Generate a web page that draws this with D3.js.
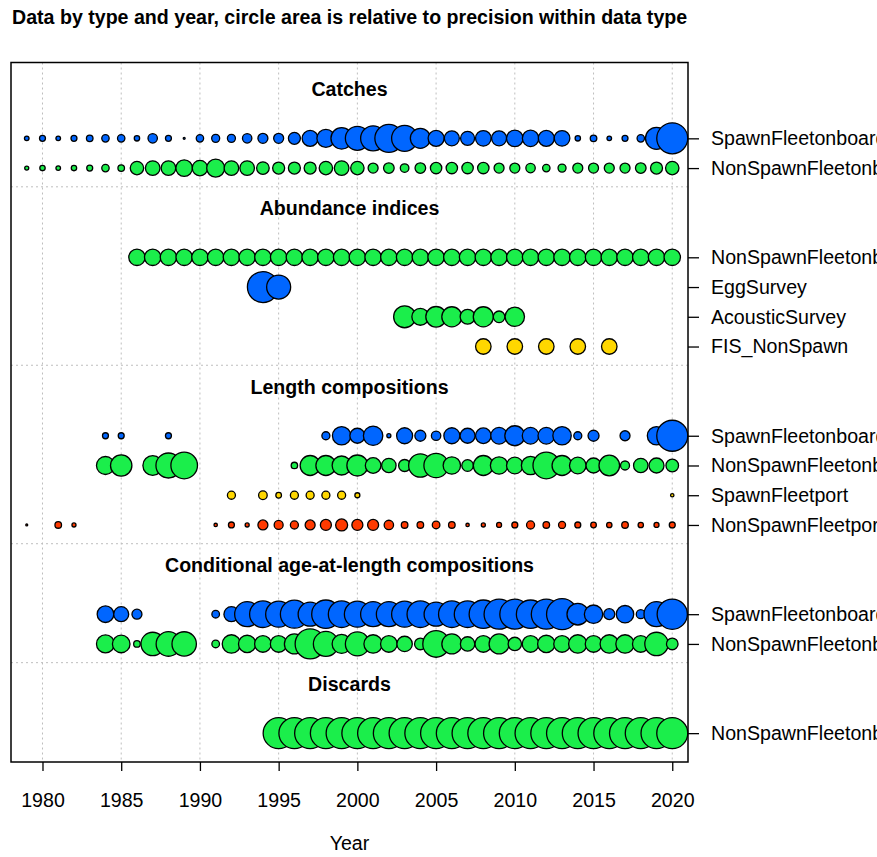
<!DOCTYPE html>
<html>
<head>
<meta charset="utf-8">
<script src="https://cdn.jsdelivr.net/npm/d3@7"></script>
<style>
  html, body { margin: 0; padding: 0; background: #fff; }
  svg { display: block; font-family: "Liberation Sans", Arial, sans-serif; }
</style>
</head>
<body>
<svg id="chart" width="877" height="857"></svg>
<script>
// ---- data ---------------------------------------------------------------
const titleText = "Data by type and year, circle area is relative to precision within data type";
const xTicks = [1980, 1985, 1990, 1995, 2000, 2005, 2010, 2015, 2020];
const dataTypes = ["Catches", "Abundance indices", "Length compositions",
  "Conditional age-at-length compositions", "Discards"];

const fleetColors = {
  SpawnFleetonboard: "#0066FF",
  NonSpawnFleetonboard: "#1BEE4B",
  SpawnFleetport: "#FFD700",
  NonSpawnFleetport: "#FF3A00",
  EggSurvey: "#0066FF",
  AcousticSurvey: "#1BEE4B",
  FIS_NonSpawn: "#FFD700"
};

// Catches
const catchYears = [1979,1980,1981,1982,1983,1984,1985,1986,1987,1988,1989,1990,1991,1992,
  1993,1994,1995,1996,1997,1998,1999,2000,2001,2002,2003,2004,2005,2006,2007,2008,2009,2010,
  2011,2012,2013,2014,2015,2016,2017,2018,2019,2020];
const catchSpawnOnboard = [2.2,3.7,2.2,3.7,4.5,5.7,5.7,3.0,9.2,3.7,0.4,5.7,6.7,6.7,9.2,10.4,
  10.4,15,26.6,33.7,47.6,59.9,65,81.6,70.3,41.6,26.6,23.4,20.4,25.3,23.4,28.7,28,26.6,25.3,
  3.0,4.5,2.2,3.7,5.7,50.4,100];
const catchNonSpawnOnboard = [1.7,3.0,2.2,3.0,3.7,5.7,4.5,18.7,22.2,22.2,28.7,24.7,33.7,22.2,
  22.2,16.5,15,15,15,18.7,22.2,18.7,10.4,11.7,7.7,11.7,13.5,13.5,13.5,13.5,10.4,10.4,9.2,5.7,
  6.7,10.4,10.4,10.4,10.4,11.7,15,18.7];

// Abundance indices
const cpueYears = [1986,1987,1988,1989,1990,1991,1992,1993,1994,1995,1996,1997,1998,1999,2000,
  2001,2002,2003,2004,2005,2006,2007,2008,2009,2010,2011,2012,2013,2014,2015,2016,2017,2018,
  2019,2020];
const cpueNonSpawnOnboard = [28,28,28,28,28,28,28,28,28,28,28,28,28,28,28,28,28,28,28,28,28,
  28,28,28,28,28,28,28,28,28,28,28,28,28,28];
const eggYears = [1994, 1995];
const eggSurvey = [100, 60];
const acousticYears = [2003,2004,2005,2006,2007,2008,2009,2010];
const acousticSurvey = [50,30,44,42,23,42,14,39];
const fisYears = [2008,2010,2012,2014,2016];
const fisNonSpawn = [25,25,25,25,25];

// Length compositions
const lenSpawnOnboardYears = [1984,1985,1988,1998,1999,2000,2001,2002,2003,2004,2005,2006,
  2007,2008,2009,2010,2011,2012,2013,2014,2015,2017,2019,2020];
const lenSpawnOnboard = [3.7,3.7,3.7,6.7,35.2,23.4,39.2,1.7,26.6,12.6,9.2,26.6,23.4,25.3,28.7,
  41.6,28.7,28.7,35.2,6.7,12.6,10.4,35.2,100];
const lenNonSpawnOnboardYears = [1984,1985,1987,1988,1989,1996,1997,1998,1999,2000,2001,2002,
  2003,2004,2005,2006,2007,2008,2009,2010,2011,2012,2013,2014,2015,2016,2017,2018,2019,2020];
const lenNonSpawnOnboard = [33.7,47.6,40,65,73.6,4.3,41.6,41.6,37.6,45.9,25.3,21.6,15,57,61.9,
  31.5,14,41.6,31.5,28.7,35.2,73.6,41.6,28.7,23.4,44.2,8.4,21.6,23.4,16.5];
const lenSpawnPortYears = [1992,1994,1995,1996,1997,1998,1999,2000,2020];
const lenSpawnPort = [6.7,7.7,3.3,6.7,6.7,6.7,6.7,2.6,1.2];
const lenNonSpawnPortYears = [1979,1981,1982,1991,1992,1993,1994,1995,1996,1997,1998,1999,
  2000,2001,2002,2003,2004,2005,2006,2007,2008,2009,2010,2011,2012,2013,2014,2015,2016,2017,
  2018,2019,2020];
const lenNonSpawnPort = [0.4,4.5,1.7,1.2,3.7,1.7,10.4,8.4,6.7,10.4,12.6,15,12.6,12.6,9.2,4.5,
  4.5,6,4.5,1.2,1.7,2.6,3.7,6.7,4.5,5.1,3.7,3.3,3.0,4.5,3.0,2.6,3.7];

// Conditional age-at-length compositions
const caalSpawnOnboardYears = [1984,1985,1986,1991,1992,1993,1994,1995,1996,1997,1998,1999,
  2000,2001,2002,2003,2004,2005,2006,2007,2008,2009,2010,2011,2012,2013,2014,2015,2016,2017,
  2018,2019,2020];
const caalSpawnOnboard = [28.7,23.4,10.4,6,23.4,65,73.6,70.3,81.6,59.9,83.9,73.6,70.3,65,65,
  70.3,73.6,59.9,73.6,73.6,83.9,93.6,93.6,83.9,93.6,100,48.5,35.2,12.6,31.5,8.4,65,95];
const caalNonSpawnOnboardYears = [1984,1985,1986,1987,1988,1989,1991,1992,1993,1994,1995,1996,
  1997,1998,1999,2000,2001,2002,2003,2004,2005,2006,2007,2008,2009,2010,2011,2012,2013,2014,
  2015,2016,2017,2018,2019,2020];
const caalNonSpawnOnboard = [33.7,32.2,4.5,57,63,61.9,6,35.2,31.5,28.7,28.7,41.6,93.6,65,37.6,
  59.9,35.2,28.7,24.7,14,73.6,41.6,21.6,28.7,41.6,18.7,28.7,31.5,28.7,35.2,28.7,35.2,35.2,28.7,
  57,14];

// Discards
const discardYears = [1995,1996,1997,1998,1999,2000,2001,2002,2003,2004,2005,2006,2007,2008,
  2009,2010,2011,2012,2013,2014,2015,2016,2017,2018,2019,2020];
const discardNonSpawnOnboard = [100,100,100,100,100,100,100,100,100,100,100,100,100,100,100,
  100,100,100,100,100,100,100,100,100,100,100];

// rows of the chart, grouped by data type
const rows = [
  { type: 0, fleet: "SpawnFleetonboard", years: catchYears, values: catchSpawnOnboard },
  { type: 0, fleet: "NonSpawnFleetonboard", years: catchYears, values: catchNonSpawnOnboard },
  { type: 1, fleet: "NonSpawnFleetonboard", years: cpueYears, values: cpueNonSpawnOnboard },
  { type: 1, fleet: "EggSurvey", years: eggYears, values: eggSurvey },
  { type: 1, fleet: "AcousticSurvey", years: acousticYears, values: acousticSurvey },
  { type: 1, fleet: "FIS_NonSpawn", years: fisYears, values: fisNonSpawn },
  { type: 2, fleet: "SpawnFleetonboard", years: lenSpawnOnboardYears, values: lenSpawnOnboard },
  { type: 2, fleet: "NonSpawnFleetonboard", years: lenNonSpawnOnboardYears, values: lenNonSpawnOnboard },
  { type: 2, fleet: "SpawnFleetport", years: lenSpawnPortYears, values: lenSpawnPort },
  { type: 2, fleet: "NonSpawnFleetport", years: lenNonSpawnPortYears, values: lenNonSpawnPort },
  { type: 3, fleet: "SpawnFleetonboard", years: caalSpawnOnboardYears, values: caalSpawnOnboard },
  { type: 3, fleet: "NonSpawnFleetonboard", years: caalNonSpawnOnboardYears, values: caalNonSpawnOnboard },
  { type: 4, fleet: "NonSpawnFleetonboard", years: discardYears, values: discardNonSpawnOnboard }
];

// ---- layout -------------------------------------------------------------
const box = { left: 11, right: 688, top: 62.5, bottom: 762 };
const font = 19.6;
const rMax = 15.5;

// vertical slot for each row: one unit per row, an extra two-unit gap
// between data types holds the heading
let pos = 0;
rows.forEach((r, i) => {
  if (i > 0 && r.type !== rows[i - 1].type) pos += 2;
  r.pos = pos;
  pos += 1;
});
const typeInfo = dataTypes.map((name, t) => {
  const rs = rows.filter(r => r.type === t);
  return {
    name,
    first: d3.min(rs, r => r.pos),
    last: d3.max(rs, r => r.pos),
    max: d3.max(rs, r => d3.max(r.values))
  };
});

const x = d3.scaleLinear().domain([1978, 2021]).range([box.left, box.right]);
const y = d3.scaleLinear().domain([-2.55, 20.97]).range([box.top, box.bottom]);

const svg = d3.select("#chart");

// title
svg.append("text")
  .attr("x", 12).attr("y", 24)
  .attr("font-size", 19.6).attr("font-weight", "bold")
  .text(titleText);

// grid: vertical dotted lines at the year ticks
svg.append("g").selectAll("line").data(xTicks).join("line")
  .attr("x1", d => x(d)).attr("x2", d => x(d))
  .attr("y1", box.top).attr("y2", box.bottom)
  .attr("stroke", "#BEBEBE").attr("stroke-width", 1)
  .attr("stroke-dasharray", "2,3");

// dotted separators between data types
svg.append("g").selectAll("line").data(typeInfo.slice(0, -1)).join("line")
  .attr("x1", box.left).attr("x2", box.right)
  .attr("y1", d => y(d.last + 0.63)).attr("y2", d => y(d.last + 0.63))
  .attr("stroke", "#BEBEBE").attr("stroke-width", 1)
  .attr("stroke-dasharray", "2,3");

// data type headings
svg.append("g").selectAll("text").data(typeInfo).join("text")
  .attr("x", (box.left + box.right) / 2)
  .attr("y", d => y(d.first - 1.65) + 7)
  .attr("text-anchor", "middle")
  .attr("font-size", font).attr("font-weight", "bold")
  .text(d => d.name);

// bubbles: area relative to precision within each data type
rows.forEach(r => {
  const rad = d3.scaleSqrt().domain([0, typeInfo[r.type].max]).range([0, rMax]);
  const pts = r.years.map((yr, i) => ({ yr, v: r.values[i] }));
  svg.append("g").selectAll("circle").data(pts).join("circle")
    .attr("cx", d => x(d.yr))
    .attr("cy", y(r.pos))
    .attr("r", d => rad(d.v))
    .attr("fill", fleetColors[r.fleet])
    .attr("stroke", "#000").attr("stroke-width", 1.3);
});

// plot frame
svg.append("rect")
  .attr("x", box.left).attr("y", box.top)
  .attr("width", box.right - box.left).attr("height", box.bottom - box.top)
  .attr("fill", "none").attr("stroke", "#000").attr("stroke-width", 1.5);

// bottom axis
const xAxis = svg.append("g")
  .attr("transform", `translate(0,${box.bottom})`)
  .call(d3.axisBottom(x).tickValues(xTicks).tickFormat(d3.format("d"))
    .tickSize(9).tickPadding(22));
xAxis.select(".domain").remove();
xAxis.selectAll("line").attr("stroke", "#000").attr("stroke-width", 1.3);
xAxis.selectAll("text").attr("font-size", font)
  .attr("font-family", "Liberation Sans, Arial, sans-serif").attr("fill", "#000");

// right axis with fleet names
const labelByPos = new Map(rows.map(r => [r.pos, r.fleet]));
const yAxis = svg.append("g")
  .attr("transform", `translate(${box.right},0)`)
  .call(d3.axisRight(y).tickValues(rows.map(r => r.pos))
    .tickFormat(d => labelByPos.get(d)).tickSize(11).tickPadding(12));
yAxis.select(".domain").remove();
yAxis.selectAll("line").attr("stroke", "#000").attr("stroke-width", 1.3);
yAxis.selectAll("text").attr("font-size", font)
  .attr("font-family", "Liberation Sans, Arial, sans-serif").attr("fill", "#000");

// x axis title
svg.append("text")
  .attr("x", (box.left + box.right) / 2).attr("y", 850)
  .attr("text-anchor", "middle").attr("font-size", font)
  .text("Year");
</script>
</body>
</html>
